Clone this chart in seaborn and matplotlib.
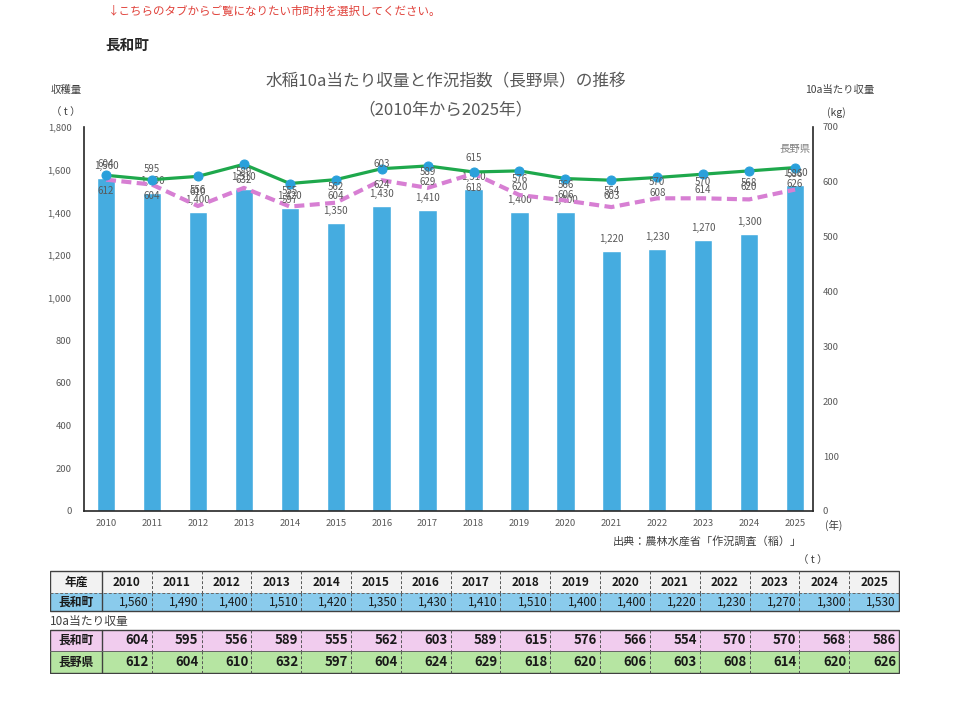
import seaborn as sns
import matplotlib.pyplot as plt
import pandas as pd
from matplotlib.patches import Rectangle
from matplotlib.ticker import FuncFormatter

# データ
years = [2010, 2011, 2012, 2013, 2014, 2015, 2016, 2017,
         2018, 2019, 2020, 2021, 2022, 2023, 2024, 2025]
harvest = [1560, 1490, 1400, 1510, 1420, 1350, 1430, 1410,
           1510, 1400, 1400, 1220, 1230, 1270, 1300, 1530]
yield_town = [604, 595, 556, 589, 555, 562, 603, 589,
              615, 576, 566, 554, 570, 570, 568, 586]
yield_pref = [612, 604, 610, 632, 597, 604, 624, 629,
              618, 620, 606, 603, 608, 614, 620, 626]

df = pd.DataFrame({
    "年": [str(y) for y in years],
    "x": range(len(years)),
    "収穫量": harvest,
    "長和町": yield_town,
    "長野県": yield_pref,
})

sns.set_style("white")
plt.rcParams['font.family'] = ['Noto Sans CJK JP', 'DejaVu Sans']

GRAY = "#595959"
BAR = "#45ace0"
PINK = "#d77fd3"
GREEN = "#1ea84c"
DOT = "#2aa0db"

fig = plt.figure(figsize=(9.6, 7.01), dpi=100)

# 上部テキスト
fig.text(108 / 960, 1 - 11 / 701, "↓こちらのタブからご覧になりたい市町村を選択してください。",
         color="#e0413a", fontsize=8.3, va="center", ha="left")
fig.text(105 / 960, 1 - 45 / 701, "長和町", fontsize=10.5, fontweight="bold", va="center")
fig.text(446 / 960, 1 - 82 / 701, "水稲10a当たり収量と作況指数（長野県）の推移",
         fontsize=12, color=GRAY, ha="center", va="center")
fig.text(446 / 960, 1 - 110 / 701, "（2010年から2025年）",
         fontsize=12, color=GRAY, ha="center", va="center")
fig.text(66 / 960, 1 - 90 / 701, "収穫量", fontsize=7.5, color="#404040", ha="center", va="center")
fig.text(66 / 960, 1 - 112 / 701, "（ t ）", fontsize=7.5, color="#404040", ha="center", va="center")
fig.text(840 / 960, 1 - 90 / 701, "10a当たり収量", fontsize=7.5, color="#404040", ha="center", va="center")
fig.text(836 / 960, 1 - 113 / 701, "(kg)", fontsize=7.5, color="#404040", ha="center", va="center")
fig.text(834 / 960, 1 - 525 / 701, "(年)", fontsize=7.5, color="#404040", ha="center", va="center")
fig.text(802 / 960, 1 - 541 / 701, "出典：農林水産省「作況調査（稲）」", fontsize=8,
         color="#404040", ha="right", va="center")
fig.text(813 / 960, 1 - 560 / 701, "（ t ）", fontsize=7.5, color="#404040", ha="center", va="center")

# グラフ本体
ax = fig.add_axes([84 / 960, 1 - 511 / 701, 729 / 960, 384 / 701])
sns.barplot(data=df, x="年", y="収穫量", color=BAR, width=0.4, saturation=1, ax=ax, zorder=1)
ax.set_ylim(0, 1800)
ax.set_xlim(-0.48, 15.39)
ax.set_yticks(range(0, 1801, 200))
ax.yaxis.set_major_formatter(FuncFormatter(lambda v, p: f"{int(v):,}"))
ax.set_xlabel("")
ax.set_ylabel("")
ax.tick_params(axis="y", length=0, pad=9, labelsize=6.8, labelcolor=GRAY)
ax.tick_params(axis="x", length=0, pad=6, labelsize=6.8, labelcolor=GRAY)

for i, v in enumerate(harvest):
    ax.annotate(f"{v:,}", (i, v), xytext=(0, 12), textcoords="offset pixels",
                ha="center", va="center", fontsize=7, color=GRAY)

ax2 = ax.twinx()
sns.lineplot(data=df, x="x", y="長和町", color=PINK, lw=3, linestyle=(0, (2.4, 1.3)),
             ax=ax2, zorder=2)
sns.lineplot(data=df, x="x", y="長野県", color=GREEN, lw=2.3, marker="o", markersize=6.5,
             markerfacecolor=DOT, markeredgecolor=DOT, ax=ax2, zorder=3)
ax2.set_ylim(0, 700)
ax2.set_xlim(-0.48, 15.39)
ax2.set_yticks(range(0, 701, 100))
ax2.set_xlabel("")
ax2.set_ylabel("")
ax2.tick_params(axis="y", length=0, pad=7, labelsize=6.8, labelcolor=GRAY)

for i, v in enumerate(yield_town):
    ax2.annotate(str(v), (i, v), xytext=(0, 16), textcoords="offset pixels",
                 ha="center", va="center", fontsize=7, color=GRAY)
for i, v in enumerate(yield_pref):
    ax2.annotate(str(v), (i, v), xytext=(0, -16), textcoords="offset pixels",
                 ha="center", va="center", fontsize=7, color=GRAY)
ax2.annotate("長野県", (len(years) - 1, yield_pref[-1]), xytext=(0, 19),
             textcoords="offset pixels", ha="center", va="center", fontsize=7.5, color="#7f7f7f")

for a in (ax, ax2):
    a.spines["top"].set_visible(False)
    for s in ("left", "right", "bottom"):
        a.spines[s].set_color("#262626")
        a.spines[s].set_linewidth(1.2)
ax.spines["right"].set_visible(False)
ax2.spines["left"].set_visible(False)
ax2.spines["bottom"].set_visible(False)

# 表
axt = fig.add_axes([50 / 960, 1 - 674 / 701, 850 / 960, 104 / 701])
axt.set_xlim(50, 900)
axt.set_ylim(674, 570)
axt.axis("off")

x0, c1, x1 = 50, 102, 899
cw = (x1 - c1) / len(years)
edges = [c1 + i * cw for i in range(len(years) + 1)]

rows = [
    ("年産", [str(y) for y in years], 571, 593, "#f2f2f2", "bold", 8.5, "center"),
    ("長和町", [f"{v:,}" for v in harvest], 593, 611, "#8acbec", "normal", 8.5, "right"),
    ("長和町", [str(v) for v in yield_town], 630, 651, "#f1ccee", "bold", 9.5, "right"),
    ("長野県", [str(v) for v in yield_pref], 651, 673, "#b6e5a2", "bold", 9.5, "right"),
]
for name, vals, ya, yb, bg, fw, fs, al in rows:
    axt.add_patch(Rectangle((x0, ya), x1 - x0, yb - ya, facecolor=bg, edgecolor="none"))
    axt.text((x0 + c1) / 2, (ya + yb) / 2, name, ha="center", va="center",
             fontsize=8.5, fontweight="bold", color="#1a1a1a")
    for i, t in enumerate(vals):
        if al == "center":
            xt = (edges[i] + edges[i + 1]) / 2
        else:
            xt = edges[i + 1] - 3
        axt.text(xt, (ya + yb) / 2, t, ha=al, va="center", fontsize=fs,
                 fontweight=fw, color="#1a1a1a")
    for e in edges[1:-1]:
        axt.plot([e, e], [ya, yb], color="#555555", lw=0.7, ls=(0, (3, 2)))

axt.text(x0, 621, "10a当たり収量", ha="left", va="center", fontsize=8.5, color="#404040")

for ya, yb, mid in ((571, 611, 593), (630, 673, 651)):
    axt.add_patch(Rectangle((x0, ya), x1 - x0, yb - ya, facecolor="none",
                            edgecolor="#404040", lw=1))
    axt.plot([c1, c1], [ya, yb], color="#404040", lw=1)
    axt.plot([x0, x1], [mid, mid], color="#666666", lw=0.7,
             ls=(0, (3, 2)) if ya == 571 else "-")

fig.savefig("out.png", dpi=100)
